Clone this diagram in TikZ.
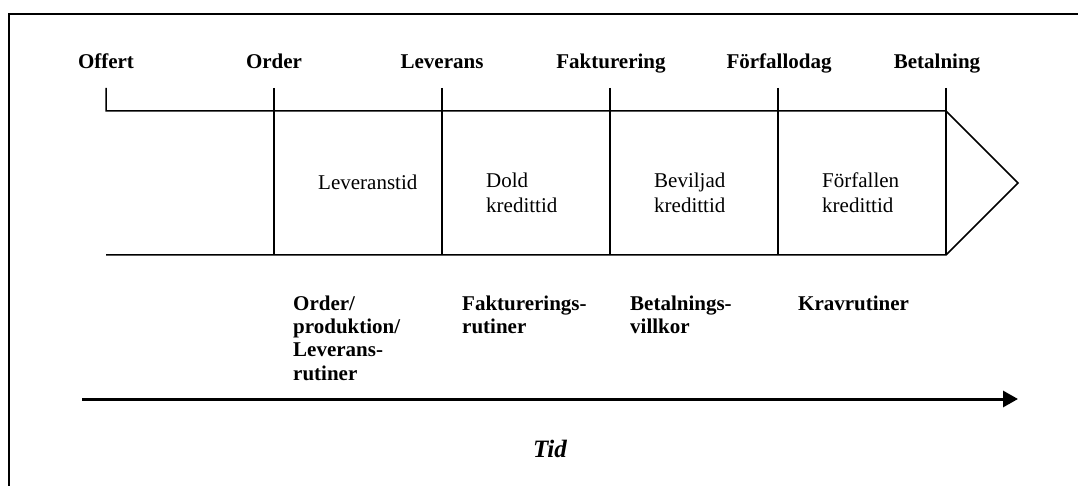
\documentclass[tikz,border=0pt]{standalone}
\usepackage{fontspec}
\setmainfont{Liberation Serif}
\usetikzlibrary{arrows.meta}
\begin{document}
\begin{tikzpicture}[x=1pt,y=-1pt,
  milestone/.style={font=\fontsize{21}{24}\selectfont\bfseries, anchor=base, inner sep=0pt},
  phase/.style={font=\fontsize{21}{25}\selectfont, anchor=base west, align=left, inner sep=0pt},
  routine/.style={font=\fontsize{21}{23.4}\selectfont\bfseries, anchor=base west, align=left, inner sep=0pt},
  frame/.style={line width=2pt},
  grid/.style={line width=1.8pt},
  edge/.style={line width=1.5pt, line join=miter},
  timeline/.style={line width=3pt, -{Triangle[length=15pt,width=16pt]}}]
\useasboundingbox (0,0) rectangle (1078,486);

% outer frame: top and left sides only
\coordinate (fTR) at (1078,14);
\coordinate (fTL) at (9,14);
\coordinate (fBL) at (9,486);
\draw[frame] (fTR) -- (fTL) -- (fBL);

% milestone labels
\node[milestone] (offert) at (106,69) {Offert};
\node[milestone] (order) at (274,69) {Order};
\node[milestone] (leverans) at (442,69) {Leverans};
\node[milestone] (fakt) at (611,69) {Fakturering};
\node[milestone] (forf) at (779,69) {Förfallodag};
\node[milestone] (betal) at (937,69) {Betalning};

% tick tops, band edges
\foreach \n/\x in {a/106,b/274,c/442,d/610,e/778,f/946}{
  \coordinate (t\n) at (\x,88);
  \coordinate (u\n) at (\x,111);
  \coordinate (l\n) at (\x,255);
}
\coordinate (tip) at (1018,183);

% band
\draw[edge] (ta) -- (ua) -- (uf) -- (tip) -- (lf) -- (la);
\foreach \n in {b,c,d,e,f}{
  \draw[grid] (t\n) -- (l\n);
}

% phases inside the band (placed by the baseline of their last line)
\node[phase] (levtid) at (318,190) {Leveranstid};
\node[phase] (dold) at (486,213) {Dold\\kredittid};
\node[phase] (bev) at (654,213) {Beviljad\\kredittid};
\node[phase] (forfk) at (822,213) {Förfallen\\kredittid};

% routines below the band (placed by the baseline of their last line)
\node[routine] (r1) at (293,380.2) {Order/\\produktion/\\Leverans-\\rutiner};
\node[routine] (r2) at (462,333.4) {Fakturerings-\\rutiner};
\node[routine] (r3) at (630,333.4) {Betalnings-\\villkor};
\node[routine] (r4) at (798,310) {Kravrutiner};

% time axis
\coordinate (ax0) at (82,399);
\coordinate (ax1) at (1018,399);
\draw[timeline] (ax0) -- (ax1);
\node[font=\fontsize{25}{28}\selectfont\bfseries\itshape, anchor=base, inner sep=0pt] (tid) at (550,457) {Tid};
\end{tikzpicture}
\end{document}
